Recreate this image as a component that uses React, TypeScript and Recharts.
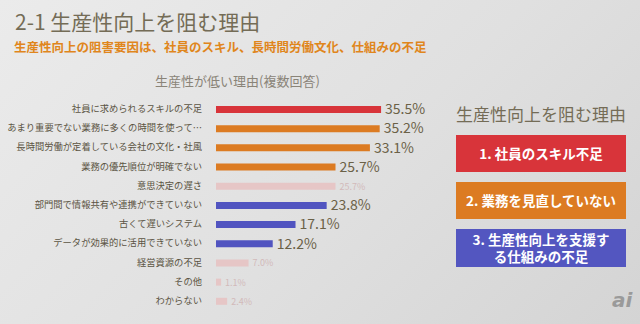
import React from 'react';
import { BarChart, Bar, XAxis, YAxis, Cell, LabelList } from 'recharts';

const categories = [
  '社員に求められるスキルの不足',
  'あまり重要でない業務に多くの時間を使って…',
  '長時間労働が定着している会社の文化・社風',
  '業務の優先順位が明確でない',
  '意思決定の遅さ',
  '部門間で情報共有や連携ができていない',
  '古くて遅いシステム',
  'データが効果的に活用できていない',
  '経営資源の不足',
  'その他',
  'わからない',
];
const values = [35.5, 35.2, 33.1, 25.7, 25.7, 23.8, 17.1, 12.2, 7.0, 1.1, 2.4];
const groups = ['skill', 'work', 'work', 'work', 'minor', 'system', 'system', 'system', 'minor', 'minor', 'minor'];

const reasons = ['1. 社員のスキル不足', '2. 業務を見直していない', '3. 生産性向上を支援す\nる仕組みの不足'];

const colorMap: Record<string, string> = {
  skill: '#d8343a',
  work: '#dc7b22',
  system: '#5154c0',
  minor: '#e6c6c6',
};
const boxColors = ['#d8343a', '#dc7b22', '#5356c0'];

const data = categories.map((name, i) => ({ name, value: values[i], group: groups[i] }));

const FONT = '"Noto Sans CJK JP", "Noto Sans", sans-serif';

const CategoryTick = ({ x, y, payload }: any) => (
  <text x={x - 6} y={y} textAnchor="end" dominantBaseline="middle" fontSize={9.3} fill="#5b5443">
    {payload.value}
  </text>
);

const ValueLabel = ({ x, y, width, height, value, index }: any) => {
  const minor = groups[index] === 'minor';
  return (
    <text
      x={x + width + 4}
      y={y + height / 2 + 1}
      dominantBaseline="middle"
      fontSize={minor ? 9 : 14}
      fill={minor ? '#d2baba' : '#6b6147'}
    >
      {`${Number(value).toFixed(1)}%`}
    </text>
  );
};

export default function App() {
  return (
    <div
      style={{
        position: 'absolute',
        left: 0,
        top: 0,
        width: 640,
        height: 324,
        overflow: 'hidden',
        fontFamily: FONT,
        background: 'linear-gradient(135deg, #ebebeb 0%, #e0e0e0 55%, #d4d4d4 100%)',
      }}
    >
      <div style={{ position: 'absolute', left: 15, top: 6, fontSize: 21, color: '#746c56', fontWeight: 400 }}>
        2-1 生産性向上を阻む理由
      </div>
      <div style={{ position: 'absolute', left: 14, top: 37, fontSize: 12.5, color: '#e0861c', fontWeight: 700 }}>
        生産性向上の阻害要因は、社員のスキル、長時間労働文化、仕組みの不足
      </div>
      <div style={{ position: 'absolute', left: 155, top: 71, fontSize: 13, color: '#8a8478' }}>
        生産性が低い理由(複数回答)
      </div>

      <div style={{ position: 'absolute', left: 0, top: 90 }}>
        <BarChart
          width={450}
          height={221}
          data={data}
          layout="vertical"
          margin={{ top: 10, right: 48, left: 0, bottom: 0 }}
          barCategoryGap={6}
        >
          <XAxis type="number" domain={[0, 40]} hide />
          <YAxis
            type="category"
            dataKey="name"
            width={216}
            axisLine={false}
            tickLine={false}
            interval={0}
            tick={<CategoryTick />}
          />
          <Bar dataKey="value" barSize={7} isAnimationActive={false}>
            {data.map((d, i) => (
              <Cell key={i} fill={colorMap[d.group]} />
            ))}
            <LabelList dataKey="value" content={<ValueLabel />} />
          </Bar>
        </BarChart>
      </div>

      <div style={{ position: 'absolute', left: 456, top: 101, fontSize: 17, color: '#746c56' }}>
        生産性向上を阻む理由
      </div>
      {reasons.map((r, i) => (
        <div
          key={i}
          style={{
            position: 'absolute',
            left: 456,
            top: [135, 182, 229][i],
            width: 170,
            height: i === 2 ? 38 : 37,
            background: boxColors[i],
            color: '#fff',
            fontWeight: 700,
            fontSize: 13.5,
            lineHeight: '17px',
            display: 'flex',
            alignItems: 'center',
            justifyContent: 'center',
            textAlign: 'center',
            whiteSpace: 'pre-line',
          }}
        >
          {r}
        </div>
      ))}
      <div style={{ position: 'absolute', left: 612, top: 288, fontSize: 20, fontStyle: 'italic', fontWeight: 700, color: '#9a9a9a', fontFamily: 'DejaVu Sans' }}>
        ai
      </div>
    </div>
  );
}
